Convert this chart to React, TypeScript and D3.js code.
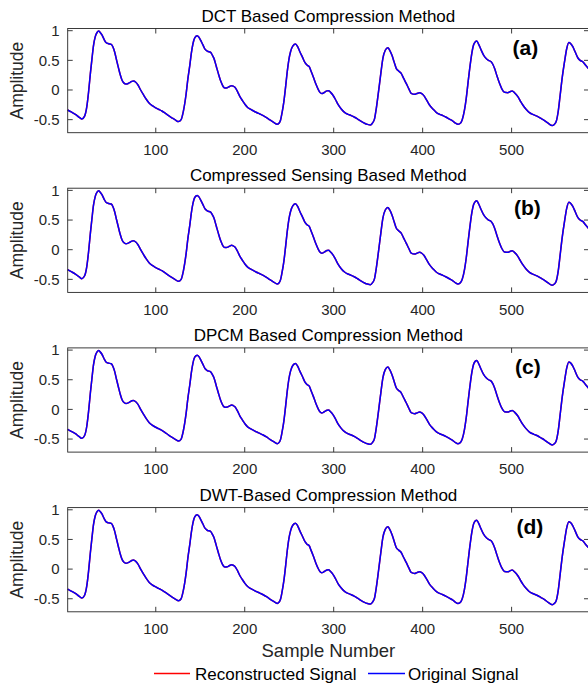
import React from "react";
import * as d3 from "d3";

// samples of the ECG trace (same in all four panels)
const sampleNumbers = [
  1, 5, 9.6, 14, 17, 20, 22.5, 24.5, 26.5, 28.3, 30, 32, 34, 35.8, 37.5, 39.5, 42, 44, 47, 50,
  52, 53.7, 56, 58.2, 60, 62, 64, 66.5, 69, 71.3, 73, 75, 77.5, 80, 83, 86.3, 89.5, 92.7, 96, 99.4,
  103, 106.9, 110.5, 114.4, 118, 121.9, 125.6, 128.5, 131, 134, 136.2, 138.3, 140, 141.8, 143.8, 146.6, 148.5, 150.4, 153, 155.3,
  158, 161.7, 163.5, 165.4, 168, 170.3, 173, 175.9, 178, 180.4, 183, 185.3, 187, 189, 192, 194.6, 197.5, 200.2, 203, 205.8,
  209.5, 213.3, 217, 220.8, 224.5, 228.3, 232.5, 236.5, 238.5, 240.3, 242, 244, 246, 247.8, 249.5, 251.5, 254, 257.1, 259.5, 262,
  265, 267.6, 270, 272.5, 274.5, 277, 280, 282.6, 284.5, 286.5, 288.5, 290.5, 292.5, 294.2, 296.5, 299, 302, 304.7, 308.5, 312.2,
  316, 319.7, 323.5, 327.2, 331, 334.7, 338, 341.4, 343.5, 345.9, 348, 350.4, 353, 355.3, 358, 360.9, 363, 365.4, 368, 370.3,
  373, 375.9, 378.5, 381.5, 384.5, 387.1, 390.9, 393.5, 396.5, 399, 401.4, 404.5, 407.7, 411.5, 415.2, 419, 422.7, 426.5, 430, 434,
  437, 439.6, 442, 444.5, 447, 449, 451, 453.4, 455.5, 457.2, 459, 460.9, 463, 465.8, 468.5, 471.4, 474, 477, 479, 480.8,
  483.5, 486.4, 489, 492, 495.8, 498, 500.7, 503.5, 507, 510, 512.6, 516, 520.1, 525, 529.5, 533, 537, 541, 545.6, 548,
  550.1, 552.5, 554.6, 557, 559.5, 562, 564.3, 566.5, 568.8, 571.5, 574.4, 577, 580, 583, 587,
];
const originalSignal = [
  -0.337, -0.37, -0.41, -0.46, -0.488, -0.44, -0.28, -0.03, 0.28, 0.53, 0.75, 0.9, 0.97, 0.993, 0.97, 0.93, 0.85, 0.8, 0.78, 0.77,
  0.72, 0.645, 0.5, 0.365, 0.26, 0.168, 0.12, 0.1, 0.11, 0.13, 0.145, 0.152, 0.13, 0.084, 0.0, -0.084, -0.16, -0.224, -0.265, -0.297,
  -0.325, -0.354, -0.39, -0.432, -0.468, -0.505, -0.533, -0.5, -0.36, -0.08, 0.2, 0.42, 0.62, 0.78, 0.88, 0.915, 0.89, 0.84, 0.76, 0.69,
  0.655, 0.634, 0.59, 0.533, 0.4, 0.28, 0.15, 0.056, 0.035, 0.039, 0.06, 0.073, 0.065, 0.045, -0.03, -0.112, -0.18, -0.241, -0.29, -0.32,
  -0.35, -0.38, -0.405, -0.432, -0.465, -0.505, -0.545, -0.578, -0.56, -0.505, -0.38, -0.196, 0.06, 0.309, 0.5, 0.645, 0.74, 0.774, 0.73, 0.645,
  0.55, 0.466, 0.42, 0.393, 0.32, 0.224, 0.1, 0.01, -0.04, -0.06, -0.05, -0.03, -0.015, -0.011, -0.04, -0.084, -0.16, -0.24, -0.32, -0.376,
  -0.41, -0.432, -0.46, -0.494, -0.53, -0.561, -0.58, -0.589, -0.56, -0.488, -0.3, -0.028, 0.28, 0.533, 0.67, 0.713, 0.67, 0.589, 0.47, 0.365,
  0.32, 0.28, 0.2, 0.112, 0.02, -0.056, -0.073, -0.06, -0.045, -0.06, -0.095, -0.17, -0.253, -0.32, -0.376, -0.41, -0.432, -0.46, -0.49, -0.525,
  -0.56, -0.578, -0.565, -0.5, -0.34, -0.14, 0.12, 0.42, 0.64, 0.758, 0.81, 0.825, 0.77, 0.673, 0.59, 0.533, 0.5, 0.477, 0.43, 0.365,
  0.24, 0.112, 0.02, -0.039, -0.045, -0.03, -0.017, -0.05, -0.112, -0.19, -0.253, -0.32, -0.382, -0.42, -0.449, -0.48, -0.516, -0.56, -0.6, -0.58,
  -0.533, -0.35, -0.084, 0.22, 0.477, 0.7, 0.8, 0.78, 0.73, 0.64, 0.544, 0.5, 0.477, 0.42, 0.35,
];
// reconstruction is indistinguishable from the original at this scale
const reconstructedSignal = originalSignal.slice();

const panelTitles = [
  "DCT Based Compression Method",
  "Compressed Sensing Based Method",
  "DPCM Based Compression Method",
  "DWT-Based Compression Method",
];
const panelLabels = ["(a)", "(b)", "(c)", "(d)"];
const labelX = [512.5, 514, 515, 516.5];
const xTicks = [100, 200, 300, 400, 500];
const yTicks = [-0.5, 0, 0.5, 1];

const W = 588;
const H = 685;
const left = 67.7;
const right = 589;
const panelTop = [28.5, 188.2, 347.9, 507.6];
const panelH = 104.2;
const font = "'Liberation Sans', Arial, Helvetica, sans-serif";
const axisColor = "#262626";

const x = d3.scaleLinear().domain([1, 587]).range([left, right]);

function Panel({ idx }: { idx: number }) {
  const top = panelTop[idx];
  const bottom = top + panelH;
  const y = d3.scaleLinear().domain([-0.72, 1.037]).range([bottom, top]);
  const line = d3
    .line<number>()
    .x((_, i) => x(sampleNumbers[i]))
    .y((d) => y(d))
    .curve(d3.curveMonotoneX);
  const tl = 5;
  return (
    <g>
      <text x={(left + right) / 2} y={top - 7} textAnchor="middle" fontSize={17} fill="#000">
        {panelTitles[idx]}
      </text>
      <path d={line(reconstructedSignal) || ""} fill="none" stroke="#ff0000" strokeWidth={1.5} />
      <path d={line(originalSignal) || ""} fill="none" stroke="#0000ff" strokeWidth={1.5} />
      <rect x={left} y={top} width={right - left} height={panelH} fill="none" stroke={axisColor} strokeWidth={0.9} />
      {xTicks.map((t) => (
        <g key={"x" + t}>
          <line x1={x(t)} x2={x(t)} y1={top} y2={top + tl} stroke={axisColor} strokeWidth={0.9} />
          <line x1={x(t)} x2={x(t)} y1={bottom} y2={bottom - tl} stroke={axisColor} strokeWidth={0.9} />
          <text x={x(t)} y={bottom + 22.3} textAnchor="middle" fontSize={15} fill={axisColor}>
            {t}
          </text>
        </g>
      ))}
      {yTicks.map((t) => (
        <g key={"y" + t}>
          <line x1={left} x2={left + tl} y1={y(t)} y2={y(t)} stroke={axisColor} strokeWidth={0.9} />
          <line x1={right} x2={right - tl} y1={y(t)} y2={y(t)} stroke={axisColor} strokeWidth={0.9} />
          <text x={59.5} y={y(t)} dy="0.36em" textAnchor="end" fontSize={15} fill={axisColor}>
            {t}
          </text>
        </g>
      ))}
      <text
        transform={`translate(23,${(top + bottom) / 2}) rotate(-90)`}
        textAnchor="middle"
        fontSize={17.5}
        fill={axisColor}
      >
        Amplitude
      </text>
      <text x={labelX[idx]} y={top + 26.5} fontSize={21} fontWeight="bold" fill="#000">
        {panelLabels[idx]}
      </text>
    </g>
  );
}

export default function App() {
  return (
    <svg
      width={W}
      height={H}
      style={{ position: "absolute", left: 0, top: 0, display: "block", background: "#fff" }}
      fontFamily={font}
    >
      {panelTitles.map((_, i) => (
        <Panel key={i} idx={i} />
      ))}
      <text x={(left + right) / 2} y={656.5} textAnchor="middle" fontSize={18.5} fill={axisColor}>
        Sample Number
      </text>
      <line x1={154} x2={190} y1={673.5} y2={673.5} stroke="#ff0000" strokeWidth={1.3} />
      <text x={195} y={679.5} fontSize={17} fill="#000">
        Reconstructed Signal
      </text>
      <line x1={368} x2={405} y1={673.5} y2={673.5} stroke="#0000ff" strokeWidth={1.3} />
      <text x={408} y={679.5} fontSize={17} fill="#000">
        Original Signal
      </text>
    </svg>
  );
}
